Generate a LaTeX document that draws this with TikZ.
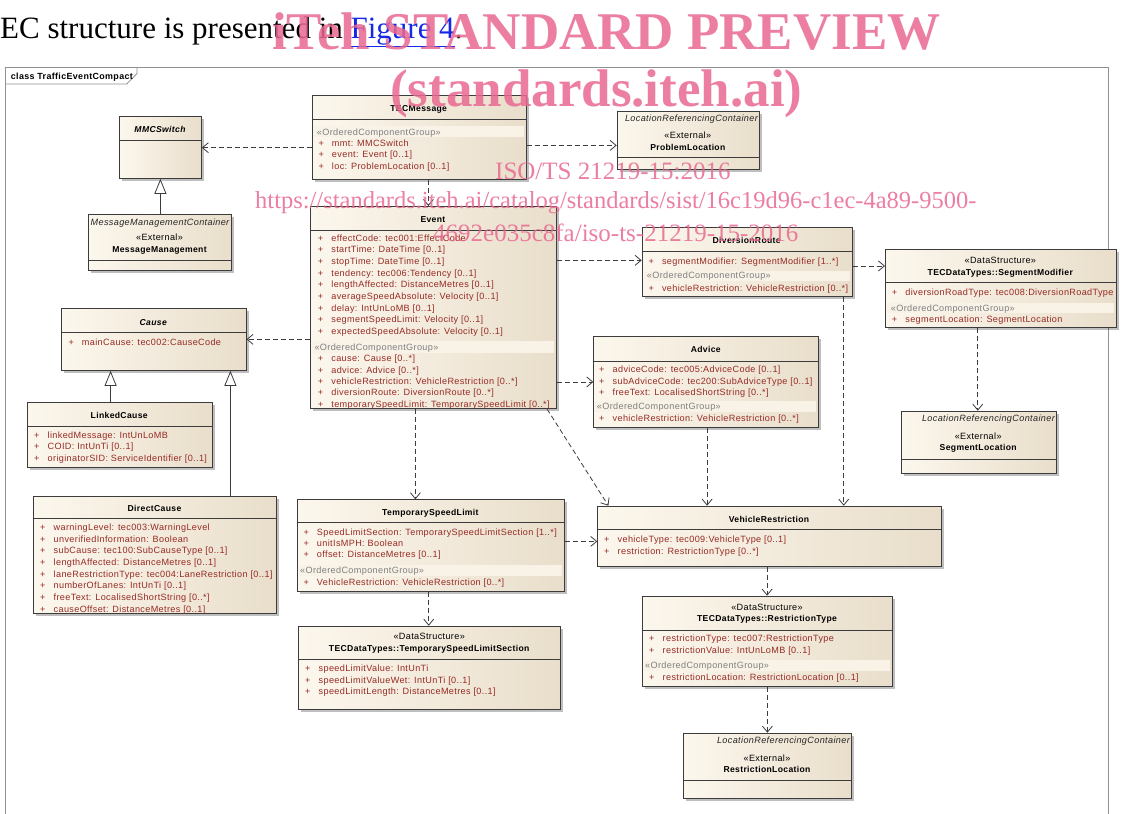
\documentclass[tikz,border=0pt]{standalone}
\usepackage{fontspec}
\usepackage{tikz}
\usetikzlibrary{arrows.meta}
\usetikzlibrary{shadows}

\newfontfamily\umlfam[LetterSpace=4.0]{Liberation Sans}
\newfontfamily\docfam{Liberation Serif}
\definecolor{umlA}{RGB}{252,247,237}
\definecolor{umlB}{RGB}{233,222,203}
\definecolor{umlline}{RGB}{60,60,60}
\definecolor{attred}{RGB}{150,42,36}
\definecolor{bandfill}{RGB}{248,242,231}
\definecolor{bandtext}{RGB}{128,128,128}
\definecolor{framegray}{RGB}{145,145,145}
\definecolor{linkblue}{RGB}{20,40,230}
\definecolor{wmpink}{RGB}{233,105,145}
\newcommand\umlsmall{\umlfam\fontsize{9.1}{11.67}\selectfont}
\newcommand\umltitle{\umlfam\bfseries\fontsize{8.6}{11}\selectfont}
\newcommand\pl{\makebox[13.5pt][l]{+}}

\begin{document}
\begin{tikzpicture}[x=1pt,y=-1pt]
    \tikzset{cls/.style={draw=umlline, line width=0.8pt, left color=umlA, right color=umlB,
                anchor=north west, inner sep=0pt,
                drop shadow={shadow xshift=2.5pt, shadow yshift=-2.5pt, fill=black, opacity=0.25}},
            ttl/.style={anchor=base, inner sep=0pt, font=\umltitle},
            ster/.style={anchor=base, inner sep=0pt, font=\umlsmall},
            cont/.style={anchor=base east, inner sep=0pt, font=\umlsmall\itshape, text=black!85},
            att/.style={anchor=base west, inner sep=0pt, font=\umlsmall, text=attred},
            grp/.style={anchor=base west, inner sep=0pt, font=\umlsmall, text=bandtext},
            sepline/.style={draw=umlline, line width=0.7pt},
            band/.style={fill=bandfill},
            wm/.style={anchor=base west, inner sep=0pt, text=wmpink, text opacity=0.85},
            dep/.style={draw=umlline, line width=0.8pt, dash pattern=on 5pt off 3pt,
                -{Straight Barb[length=6pt, width=10pt, line width=0.8pt]}},
            gen/.style={draw=umlline, line width=0.9pt,
                -{Triangle[length=15pt, width=12pt, fill=white, line width=0.8pt]}}}
    \path[use as bounding box, fill=white] (0,0) rectangle (1125,814);

    % page text and frame
    \node[anchor=base west, inner sep=0pt, font=\docfam\fontsize{31}{36}\selectfont] (hdr) at (0,38)
        {EC structure is presented in {\color{linkblue}\underline{Figure 4}}.};
    \draw[framegray, line width=0.8pt] (5,814) -- (5,67) -- (1108,67) -- (1108,814);
    \draw[framegray, line width=0.8pt] (5,84) -- (126.7,84) -- (137,73.5) -- (137,67);
    \node[anchor=base west, inner sep=0pt, font=\umlfam\bfseries\fontsize{8.9}{10}\selectfont] (frame-t)
        at (10.7,79.5) {class TrafficEventCompact};

    % MMCSwitch
    \node[cls, minimum width=82pt, minimum height=62pt] (mmc) at (119,116) {};
    \node[ttl, font=\umltitle\itshape] (mmc-t) at (160,132.3) {MMCSwitch};
    \draw[sepline] (119,140.7) -- (201,140.7);

    % MessageManagement
    \node[cls, minimum width=143pt, minimum height=56pt] (mm) at (88,214) {};
    \node[cont] (mm-c) at (229.5,225) {MessageManagementContainer};
    \node[ster] (mm-s) at (159.5,240.3) {«External»};
    \node[ttl] (mm-t) at (159.5,252.3) {MessageManagement};
    \draw[sepline] (88,260.7) -- (231,260.7);

    % TECMessage
    \node[cls, minimum width=214pt, minimum height=84pt] (tecmsg) at (311.7,95) {};
    \node[ttl] (tecmsg-t) at (418.7,111.3) {TECMessage};
    \draw[sepline] (311.7,119) -- (525.7,119);
    \fill[band] (313.7,126) rectangle (523.7,137);
    \node[grp] (tecmsg-g) at (316.7,135) {«OrderedComponentGroup»};
    \foreach \a [count=\i from 0] in {{mmt: MMCSwitch}, {event: Event [0..1]}, {loc: ProblemLocation [0..1]}}
        \node[att] (tecmsg-a\i) at (318.3,{146+11.67*\i}) {\pl\a};

    % ProblemLocation
    \node[cls, minimum width=142.3pt, minimum height=58pt] (prob) at (616.7,110.7) {};
    \node[cont] (prob-c) at (758,121.6) {LocationReferencingContainer};
    \node[ster] (prob-s) at (687.8,138.3) {«External»};
    \node[ttl] (prob-t) at (687.8,150) {ProblemLocation};
    \draw[sepline] (616.7,157.7) -- (759,157.7);

    % Event
    \node[cls, minimum width=245.7pt, minimum height=202.3pt] (event) at (310,206) {};
    \node[ttl] (event-t) at (432.9,222.3) {Event};
    \draw[sepline] (310,230) -- (555.7,230);
    \foreach \a [count=\i from 0] in {{effectCode: tec001:EffectCode}, {startTime: DateTime [0..1]},
            {stopTime: DateTime [0..1]}, {tendency: tec006:Tendency [0..1]},
            {lengthAffected: DistanceMetres [0..1]}, {averageSpeedAbsolute: Velocity [0..1]},
            {delay: IntUnLoMB [0..1]}, {segmentSpeedLimit: Velocity [0..1]},
            {expectedSpeedAbsolute: Velocity [0..1]}}
        \node[att] (event-a\i) at (317.7,{241+11.67*\i}) {\pl\a};
    \fill[band] (312,340.7) rectangle (553.7,352.7);
    \node[grp] (event-g) at (314.3,350) {«OrderedComponentGroup»};
    \foreach \a [count=\i from 0] in {{cause: Cause [0..*]}, {advice: Advice [0..*]},
            {vehicleRestriction: VehicleRestriction [0..*]}, {diversionRoute: DiversionRoute [0..*]},
            {temporarySpeedLimit: TemporarySpeedLimit [0..*]}}
        \node[att] (event-b\i) at (317.7,{361.8+11.3*\i}) {\pl\a};

    % Cause and its subclasses
    \node[cls, minimum width=185pt, minimum height=61.7pt] (cause) at (60.7,308.3) {};
    \node[ttl, font=\umltitle\itshape] (cause-t) at (153.2,325) {Cause};
    \draw[sepline] (60.7,332.7) -- (245.7,332.7);
    \node[att] (cause-a0) at (68.3,345) {\pl mainCause: tec002:CauseCode};

    \node[cls, minimum width=185pt, minimum height=65pt] (linked) at (26.7,401.7) {};
    \node[ttl] (linked-t) at (119.2,418.3) {LinkedCause};
    \draw[sepline] (26.7,426) -- (211.7,426);
    \foreach \a [count=\i from 0] in {{linkedMessage: IntUnLoMB}, {COID: IntUnTi [0..1]},
            {originatorSID: ServiceIdentifier [0..1]}}
        \node[att] (linked-a\i) at (34,{438.3+11.5*\i}) {\pl\a};

    \node[cls, minimum width=242.4pt, minimum height=117.6pt] (direct) at (33.3,495.7) {};
    \node[ttl] (direct-t) at (154.5,511) {DirectCause};
    \draw[sepline] (33.3,518.3) -- (275.7,518.3);
    \foreach \a [count=\i from 0] in {{warningLevel: tec003:WarningLevel}, {unverifiedInformation: Boolean},
            {subCause: tec100:SubCauseType [0..1]}, {lengthAffected: DistanceMetres [0..1]},
            {laneRestrictionType: tec004:LaneRestriction [0..1]}, {numberOfLanes: IntUnTi [0..1]},
            {freeText: LocalisedShortString [0..*]}, {causeOffset: DistanceMetres [0..1]}}
        \node[att] (direct-a\i) at (40,{530.6+11.67*\i}) {\pl\a};

    % DiversionRoute
    \node[cls, minimum width=210pt, minimum height=69.3pt] (div) at (641.7,226.7) {};
    \node[ttl] (div-t) at (746.7,243.3) {DiversionRoute};
    \draw[sepline] (641.7,251) -- (851.7,251);
    \node[att] (div-a0) at (648.3,264) {\pl segmentModifier: SegmentModifier [1..*]};
    \fill[band] (643.7,270.5) rectangle (849.7,280.5);
    \node[grp] (div-g) at (646.7,278.3) {«OrderedComponentGroup»};
    \node[att] (div-b0) at (648.3,291) {\pl vehicleRestriction: VehicleRestriction [0..*]};

    % SegmentModifier
    \node[cls, minimum width=230.7pt, minimum height=78pt] (segmod) at (885,249.3) {};
    \node[ster] (segmod-s) at (1000.3,263.3) {«DataStructure»};
    \node[ttl] (segmod-t) at (1000.3,275.6) {TECDataTypes::SegmentModifier};
    \draw[sepline] (885,282.7) -- (1115.7,282.7);
    \node[att] (segmod-a0) at (891.7,295.6) {\pl diversionRoadType: tec008:DiversionRoadType};
    \fill[band] (887,303.3) rectangle (1113.7,313.3);
    \node[grp] (segmod-g) at (890.7,311.6) {«OrderedComponentGroup»};
    \node[att] (segmod-b0) at (891.7,322.6) {\pl segmentLocation: SegmentLocation};

    % SegmentLocation
    \node[cls, minimum width=155pt, minimum height=62pt] (segloc) at (900.7,410.7) {};
    \node[cont] (segloc-c) at (1055,421.6) {LocationReferencingContainer};
    \node[ster] (segloc-s) at (978.2,439) {«External»};
    \node[ttl] (segloc-t) at (978.2,450.6) {SegmentLocation};
    \draw[sepline] (900.7,459) -- (1055.7,459);

    % Advice
    \node[cls, minimum width=225pt, minimum height=90.7pt] (advice) at (593.3,336) {};
    \node[ttl] (advice-t) at (705.8,352.3) {Advice};
    \draw[sepline] (593.3,361) -- (818.3,361);
    \foreach \a [count=\i from 0] in {{adviceCode: tec005:AdviceCode [0..1]},
            {subAdviceCode: tec200:SubAdviceType [0..1]}, {freeText: LocalisedShortString [0..*]}}
        \node[att] (advice-a\i) at (599,{372.6+11.5*\i}) {\pl\a};
    \fill[band] (595.3,401) rectangle (816.3,411.7);
    \node[grp] (advice-g) at (596.7,409.6) {«OrderedComponentGroup»};
    \node[att] (advice-b0) at (599,421.6) {\pl vehicleRestriction: VehicleRestriction [0..*]};

    % TemporarySpeedLimit
    \node[cls, minimum width=267.3pt, minimum height=91.7pt] (tsl) at (296.7,499.3) {};
    \node[ttl] (tsl-t) at (430.4,515) {TemporarySpeedLimit};
    \draw[sepline] (296.7,522.3) -- (564,522.3);
    \foreach \a [count=\i from 0] in {{SpeedLimitSection: TemporarySpeedLimitSection [1..*]},
            {unitIsMPH: Boolean}, {offset: DistanceMetres [0..1]}}
        \node[att] (tsl-a\i) at (303.3,{535+11.3*\i}) {\pl\a};
    \fill[band] (298.7,565) rectangle (562,575.7);
    \node[grp] (tsl-g) at (300,573.3) {«OrderedComponentGroup»};
    \node[att] (tsl-b0) at (303.3,585) {\pl VehicleRestriction: VehicleRestriction [0..*]};

    % TemporarySpeedLimitSection
    \node[cls, minimum width=261.7pt, minimum height=83.6pt] (tsls) at (298.3,625.7) {};
    \node[ster] (tsls-s) at (429.2,639.3) {«DataStructure»};
    \node[ttl] (tsls-t) at (429.2,651.6) {TECDataTypes::TemporarySpeedLimitSection};
    \draw[sepline] (298.3,659.3) -- (560,659.3);
    \foreach \a [count=\i from 0] in {{speedLimitValue: IntUnTi}, {speedLimitValueWet: IntUnTi [0..1]},
            {speedLimitLength: DistanceMetres [0..1]}}
        \node[att] (tsls-a\i) at (305,{671.6+11.67*\i}) {\pl\a};

    % VehicleRestriction
    \node[cls, minimum width=343.4pt, minimum height=60pt] (vr) at (597.3,505.7) {};
    \node[ttl] (vr-t) at (769,522.3) {VehicleRestriction};
    \draw[sepline] (597.3,529.3) -- (940.7,529.3);
    \node[att] (vr-a0) at (604,542.3) {\pl vehicleType: tec009:VehicleType [0..1]};
    \node[att] (vr-a1) at (604,554) {\pl restriction: RestrictionType [0..*]};

    % RestrictionType
    \node[cls, minimum width=250.6pt, minimum height=90.3pt] (rt) at (641.7,595.7) {};
    \node[ster] (rt-s) at (767,610) {«DataStructure»};
    \node[ttl] (rt-t) at (767,621.6) {TECDataTypes::RestrictionType};
    \draw[sepline] (641.7,630) -- (892.3,630);
    \node[att] (rt-a0) at (649,641.6) {\pl restrictionType: tec007:RestrictionType};
    \node[att] (rt-a1) at (649,653.3) {\pl restrictionValue: IntUnLoMB [0..1]};
    \fill[band] (643.7,660) rectangle (890.3,670.7);
    \node[grp] (rt-g) at (645,668.3) {«OrderedComponentGroup»};
    \node[att] (rt-b0) at (649,680.6) {\pl restrictionLocation: RestrictionLocation [0..1]};

    % RestrictionLocation
    \node[cls, minimum width=167.4pt, minimum height=65.6pt] (rl) at (683.3,732.7) {};
    \node[cont] (rl-c) at (850,743.3) {LocationReferencingContainer};
    \node[ster] (rl-s) at (767,761) {«External»};
    \node[ttl] (rl-t) at (767,772.3) {RestrictionLocation};
    \draw[sepline] (683.3,780.7) -- (850.7,780.7);

    % generalisations
    \draw[gen] (mmc.south |- mm.north) -- (mmc.south);
    \draw[gen] ([xshift=-9pt]linked.north) -- ([xshift=-9pt]linked.north |- cause.south);
    \draw[gen] ([xshift=75.5pt]direct.north) -- ([xshift=75.5pt]direct.north |- cause.south);

    % dependencies
    \draw[dep] ([yshift=-10.3pt]tecmsg.west) -- ([yshift=-10.3pt]tecmsg.west -| mmc.east);
    \draw[dep] ([yshift=-8pt]tecmsg.east) -- ([yshift=-8pt]tecmsg.east -| prob.west);
    \draw[dep] ([xshift=9.3pt]tecmsg.south) -- ([xshift=9.3pt]tecmsg.south |- event.north);
    \draw[dep] ([yshift=-31.8pt]event.west) -- ([yshift=-31.8pt]event.west -| cause.east);
    \draw[dep] ([yshift=47.2pt]event.east) -- ([yshift=47.2pt]event.east -| div.west);
    \draw[dep] ([yshift=-74.4pt]event.east) -- ([yshift=-74.4pt]event.east -| advice.west);
    \draw[dep] ([xshift=-17.85pt]event.south) -- ([xshift=-17.85pt]event.south |- tsl.north);
    \draw[dep] ([xshift=113.85pt]event.south) -- ([xshift=-161pt]vr.north);
    \draw[dep] ([yshift=-4.2pt]div.east) -- ([yshift=-4.2pt]div.east -| segmod.west);
    \draw[dep] ([xshift=96.6pt]div.south) -- ([xshift=96.6pt]div.south |- vr.north);
    \draw[dep] ([xshift=-23pt]segmod.south) -- ([xshift=-23pt]segmod.south |- segloc.north);
    \draw[dep] ([xshift=0.9pt]advice.south) -- ([xshift=0.9pt]advice.south |- vr.north);
    \draw[dep] ([yshift=4.15pt]tsl.east) -- ([yshift=4.15pt]tsl.east -| vr.west);
    \draw[dep] ([xshift=-2pt]tsl.south) -- ([xshift=-2pt]tsl.south |- tsls.north);
    \draw[dep] ([xshift=-2.3pt]vr.south) -- ([xshift=-2.3pt]vr.south |- rt.north);
    \draw[dep] (rt.south) -- (rt.south |- rl.north);

    % watermark
    \node[wm, font=\docfam\bfseries\fontsize{53}{60}\selectfont] (wm1) at (272,49) {iTeh STANDARD PREVIEW};
    \node[wm, font=\docfam\bfseries\fontsize{53}{60}\selectfont] (wm2) at (390,106) {(standards.iteh.ai)};
    \node[wm, font=\docfam\fontsize{25}{30}\selectfont] (wm3) at (495,179) {ISO/TS 21219-15:2016};
    \node[wm, font=\docfam\fontsize{24.5}{30}\selectfont] (wm4) at (255,208)
        {https://standards.iteh.ai/catalog/standards/sist/16c19d96-c1ec-4a89-9500-};
    \node[wm, font=\docfam\fontsize{25}{30}\selectfont] (wm5) at (433,241) {4692e035c8fa/iso-ts-21219-15-2016};
\end{tikzpicture}
\end{document}
